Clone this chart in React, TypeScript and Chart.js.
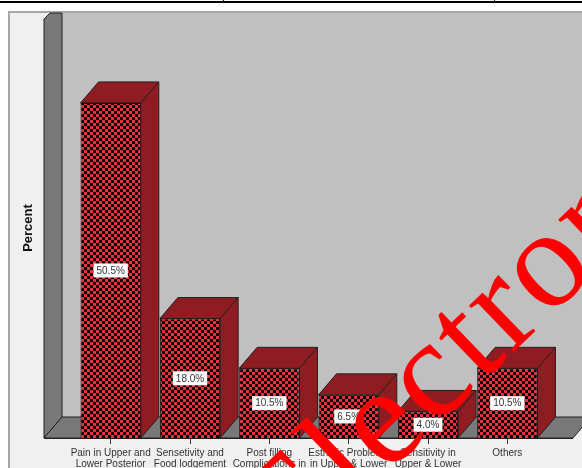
import React, { useEffect, useRef } from "react";
import { Chart, registerables } from "chart.js";

Chart.register(...registerables);

const categories: string[][] = [
  ["Pain in Upper and", "Lower Posterior", "Teeth"],
  ["Sensetivity and", "Food lodgement", "in Posterior"],
  ["Post filling", "Complications in", "Upper"],
  ["Esthetic Problems", "in Upper & Lower", "Anterior"],
  ["Sensitivity in", "Upper & Lower", "Anterior"],
  ["Others"],
];
const percentValues = [50.5, 18.0, 10.5, 6.5, 4.0, 10.5];
const yAxisMax = 63.3;
const stampText = "Electronic";

const DEPTH_X = 18;
const DEPTH_Y = 21;
const CHECK_SIZE = 3;
const WALL_COLOR = "#c0c0c0";
const DARK_WALL = "#787878";
const SIDE_COLOR = "#8f1c20";
const PANEL_COLOR = "#f0f0f0";
const SANS = "'Liberation Sans', Arial, sans-serif";

function makeChecker(ctx: CanvasRenderingContext2D): CanvasPattern {
  const tile = document.createElement("canvas");
  tile.width = CHECK_SIZE * 2;
  tile.height = CHECK_SIZE * 2;
  const t = tile.getContext("2d")!;
  t.fillStyle = "#000000";
  t.fillRect(0, 0, tile.width, tile.height);
  t.fillStyle = "#f03038";
  t.fillRect(0, 0, CHECK_SIZE, CHECK_SIZE);
  t.fillRect(CHECK_SIZE, CHECK_SIZE, CHECK_SIZE, CHECK_SIZE);
  return ctx.createPattern(tile, "repeat")!;
}

function poly(ctx: CanvasRenderingContext2D, pts: number[][], fill: string, stroke = "#222222") {
  ctx.beginPath();
  pts.forEach(([x, y], i) => (i ? ctx.lineTo(x, y) : ctx.moveTo(x, y)));
  ctx.closePath();
  ctx.fillStyle = fill;
  ctx.fill();
  ctx.strokeStyle = stroke;
  ctx.lineWidth = 1;
  ctx.stroke();
}

// Page frame, chart panel and the three-dimensional room behind the bars.
const roomPlugin = {
  id: "room",
  beforeDraw(chart: any) {
    const { ctx, width, height, chartArea } = chart;
    const base = chartArea.bottom;
    const wallLeft = chartArea.left - 27;
    const backLeft = wallLeft + DEPTH_X;
    const frontRight = chartArea.right + 26;
    const panelTop = 11;
    ctx.save();
    ctx.fillStyle = "#ffffff";
    ctx.fillRect(0, 0, width, height);

    ctx.fillStyle = "#000000";
    ctx.fillRect(0, 1, width, 2);
    ctx.fillRect(223, 0, 1, 2);
    ctx.fillRect(494, 0, 1, 2);

    ctx.fillStyle = PANEL_COLOR;
    ctx.fillRect(8, panelTop, width, height);
    ctx.fillStyle = "#a8a8a8";
    ctx.fillRect(8, panelTop, width, 2);
    ctx.fillRect(8, panelTop, 2, height);

    ctx.fillStyle = WALL_COLOR;
    ctx.fillRect(backLeft, panelTop + 2, width, base - DEPTH_Y - panelTop - 2);

    poly(ctx, [
      [wallLeft, panelTop + 8],
      [wallLeft + 6, panelTop + 2],
      [backLeft, panelTop + 2],
      [backLeft, base - DEPTH_Y],
      [wallLeft, base],
    ], DARK_WALL);
    poly(ctx, [
      [wallLeft, base],
      [backLeft, base - DEPTH_Y],
      [frontRight + DEPTH_X, base - DEPTH_Y],
      [frontRight, base],
    ], DARK_WALL);
    ctx.restore();
  },
  // Top and side faces of each column, behind its patterned front.
  beforeDatasetsDraw(chart: any) {
    const { ctx } = chart;
    ctx.save();
    chart.getDatasetMeta(0).data.forEach((bar: any) => {
      const l = bar.x - bar.width / 2;
      const r = bar.x + bar.width / 2;
      poly(ctx, [
        [l, bar.y],
        [l + DEPTH_X, bar.y - DEPTH_Y],
        [r + DEPTH_X, bar.y - DEPTH_Y],
        [r, bar.y],
      ], SIDE_COLOR);
      poly(ctx, [
        [r, bar.y],
        [r + DEPTH_X, bar.y - DEPTH_Y],
        [r + DEPTH_X, bar.base - DEPTH_Y],
        [r, bar.base],
      ], SIDE_COLOR);
    });
    ctx.restore();
  },
  // Front edge of the floor and the boxed percentage labels.
  afterDatasetsDraw(chart: any) {
    const { ctx, chartArea } = chart;
    ctx.save();
    ctx.strokeStyle = "#222222";
    ctx.lineWidth = 1;
    ctx.beginPath();
    ctx.moveTo(chartArea.left - 27, chartArea.bottom + 0.5);
    ctx.lineTo(chartArea.right + 26, chartArea.bottom + 0.5);
    ctx.stroke();

    ctx.font = `10px ${SANS}`;
    ctx.textAlign = "center";
    ctx.textBaseline = "middle";
    chart.getDatasetMeta(0).data.forEach((bar: any, i: number) => {
      const text = `${percentValues[i].toFixed(1)}%`;
      const cy = (bar.y + bar.base) / 2;
      const w = ctx.measureText(text).width + 6;
      ctx.fillStyle = "#ffffff";
      ctx.fillRect(bar.x - w / 2, cy - 7, w, 14);
      ctx.fillStyle = "#333333";
      ctx.fillText(text, bar.x, cy + 0.5);
    });
    ctx.restore();
  },
  // Diagonal red stamp across the finished chart.
  afterDraw(chart: any) {
    const { ctx } = chart;
    ctx.save();
    ctx.translate(292, 566);
    ctx.rotate((-44 * Math.PI) / 180);
    ctx.font = "140px 'Liberation Serif', 'Times New Roman', serif";
    ctx.letterSpacing = "3.5px";
    ctx.fillStyle = "#ff0000";
    ctx.textAlign = "left";
    ctx.textBaseline = "alphabetic";
    ctx.fillText(stampText, 0, 0);
    ctx.restore();
  },
};

export default function App() {
  const ref = useRef<HTMLCanvasElement>(null);

  useEffect(() => {
    const canvas = ref.current!;
    const ctx = canvas.getContext("2d")!;
    const chart = new Chart(ctx, {
      type: "bar",
      data: {
        labels: categories,
        datasets: [
          {
            label: "Percent",
            data: percentValues,
            backgroundColor: makeChecker(ctx),
            borderColor: "#111111",
            borderWidth: 1,
            categoryPercentage: 1,
            barPercentage: 0.76,
          },
        ],
      },
      options: {
        responsive: false,
        animation: false,
        devicePixelRatio: 1,
        layout: { padding: { top: 18, right: 35, left: 0, bottom: 0 } },
        plugins: {
          legend: { display: false },
          title: { display: false },
          tooltip: { enabled: false },
        },
        scales: {
          x: {
            type: "category",
            offset: true,
            afterFit: (scale: any) => {
              scale.height = 30;
            },
            border: { display: false },
            grid: {
              offset: false,
              drawOnChartArea: false,
              drawTicks: true,
              tickLength: 6,
              color: "#333333",
            },
            ticks: {
              autoSkip: false,
              maxRotation: 0,
              minRotation: 0,
              padding: 3,
              color: "#333333",
              font: { family: SANS, size: 10, lineHeight: 1.15 },
            },
          },
          y: {
            min: 0,
            max: yAxisMax,
            afterFit: (scale: any) => {
              scale.width = 71;
            },
            border: { display: false },
            grid: { display: false },
            ticks: { display: false },
            title: {
              display: true,
              text: "Percent",
              color: "#111111",
              padding: { top: 21, bottom: 0 },
              font: { family: SANS, size: 13, weight: "bold" },
            },
          },
        },
      },
      plugins: [roomPlugin],
    } as any);
    return () => chart.destroy();
  }, []);

  return (
    <canvas
      ref={ref}
      width={582}
      height={468}
      style={{ position: "fixed", left: 0, top: 0, width: 582, height: 468, display: "block" }}
    />
  );
}
